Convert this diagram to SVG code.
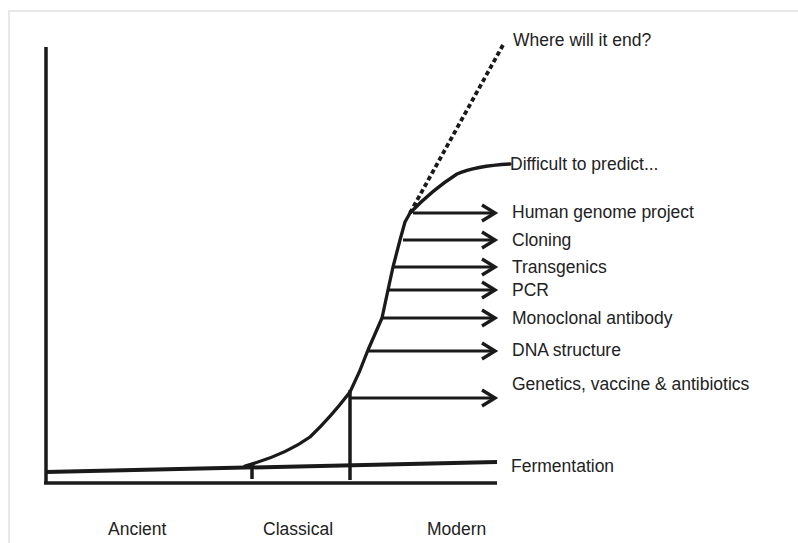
<svg xmlns="http://www.w3.org/2000/svg" width="798" height="543" viewBox="0 0 798 543">
<style>
.lbl{font-family:"Liberation Sans",Arial,sans-serif;font-size:17.5px;fill:#222}
.ax{stroke:#1a1a1a;stroke-width:3.5;fill:none}
.arr{stroke:#1a1a1a;stroke-width:3.2;fill:none;marker-end:url(#ah)}
.crv{stroke:#1a1a1a;stroke-width:3.3;fill:none;stroke-linejoin:round;stroke-linecap:round}
</style>
<defs>
<marker id="ah" markerUnits="userSpaceOnUse" markerWidth="20" markerHeight="22" viewBox="0 0 20 22" refX="16" refY="11" orient="auto">
<path d="M3,3 L16,11 L3,19" fill="none" stroke="#1a1a1a" stroke-width="3.4"/>
</marker>
</defs>
<rect width="798" height="543" fill="#ffffff"/>
<path d="M9,543 V11 H798" fill="none" stroke="#e8e8e8" stroke-width="2"/>
<g id="axes">
<line class="ax" x1="46" y1="47" x2="46" y2="484"/>
<line class="ax" x1="44" y1="483" x2="497" y2="483"/>
<line class="ax" x1="252" y1="463" x2="252" y2="479"/>
<line class="ax" x1="350" y1="390" x2="350" y2="480"/>
</g>
<g id="connectors">
<path id="fermentation-line" d="M46,472 L497,462" stroke="#1a1a1a" stroke-width="4" fill="none"/>
<path id="growth-curve" class="crv" d="M245,466 Q285,455 310,437 Q330,418 350,392 Q360,372 368,350 L382,318 L388,290 L393,267 L400,240 L405,222 L410,213 Q432,190 457,174 Q475,166 510,164"/>
<path id="dotted" d="M410,213 L503,45" stroke="#1a1a1a" stroke-width="3.8" stroke-dasharray="4.5 3" fill="none"/>
<line class="arr" x1="413" y1="213" x2="495" y2="213"/>
<line class="arr" x1="403" y1="240" x2="495" y2="240"/>
<line class="arr" x1="393" y1="267" x2="495" y2="267"/>
<line class="arr" x1="388" y1="290" x2="495" y2="290"/>
<line class="arr" x1="382" y1="318" x2="495" y2="318"/>
<line class="arr" x1="368" y1="351" x2="495" y2="351"/>
<line class="arr" x1="350" y1="398" x2="495" y2="398"/>
</g>
<g id="n-where"><text class="lbl" x="513" y="46">Where will it end?</text></g>
<g id="n-difficult"><text class="lbl" x="510" y="170">Difficult to predict...</text></g>
<g id="n-human"><text class="lbl" x="512" y="218">Human genome project</text></g>
<g id="n-cloning"><text class="lbl" x="512" y="246">Cloning</text></g>
<g id="n-transgenics"><text class="lbl" x="512" y="273">Transgenics</text></g>
<g id="n-pcr"><text class="lbl" x="512" y="296">PCR</text></g>
<g id="n-mono"><text class="lbl" x="512" y="324">Monoclonal antibody</text></g>
<g id="n-dna"><text class="lbl" x="512" y="356">DNA structure</text></g>
<g id="n-genetics"><text class="lbl" x="512" y="390">Genetics, vaccine &amp; antibiotics</text></g>
<g id="n-fermentation"><text class="lbl" x="511" y="472">Fermentation</text></g>
<g id="n-ancient"><text class="lbl" x="108" y="535">Ancient</text></g>
<g id="n-classical"><text class="lbl" x="263" y="535">Classical</text></g>
<g id="n-modern"><text class="lbl" x="427" y="535">Modern</text></g>
</svg>
